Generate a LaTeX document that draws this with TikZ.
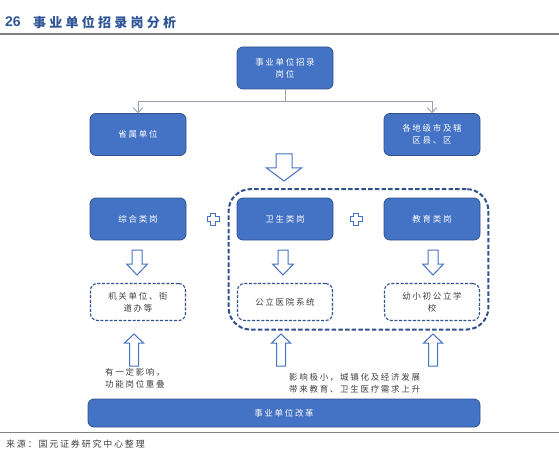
\documentclass[tikz,border=0pt]{standalone}
\usepackage{fontspec}
\usetikzlibrary{arrows.meta,fit}
\newfontfamily\cjk[LetterSpace=20]{Noto Sans CJK SC}
\newfontfamily\cjktitle[LetterSpace=25]{Noto Sans CJK SC}
\newfontfamily\lib{Liberation Sans}
\definecolor{boxblue}{RGB}{68,114,196}
\definecolor{bordblue}{RGB}{47,82,143}
\definecolor{titleblue}{RGB}{47,85,151}
\definecolor{textgray}{RGB}{64,64,64}
\definecolor{conngray}{RGB}{150,160,175}
\definecolor{rulegray}{RGB}{128,128,128}
% #1 centre x, #2 tail y, #3 head-base y, #4 tip y, #5 half shaft, #6 half head
\newcommand\hdown[6]{\draw[hollow] ({#1-#5},#2) -- ({#1+#5},#2) -- ({#1+#5},#3) -- ({#1+#6},#3) -- (#1,#4) -- ({#1-#6},#3) -- ({#1-#5},#3) -- cycle;}
\newcommand\hplus[2]{\draw[hollow] ({#1-2.3},{#2-6}) -- ({#1+2.3},{#2-6}) -- ({#1+2.3},{#2-2.3}) -- ({#1+6},{#2-2.3}) -- ({#1+6},{#2+2.3}) -- ({#1+2.3},{#2+2.3}) -- ({#1+2.3},{#2+6}) -- ({#1-2.3},{#2+6}) -- ({#1-2.3},{#2+2.3}) -- ({#1-6},{#2+2.3}) -- ({#1-6},{#2-2.3}) -- ({#1-2.3},{#2-2.3}) -- cycle;}
\tikzset{
  solidbox/.style={draw=bordblue, fill=boxblue, rounded corners=6pt, minimum width=96pt, minimum height=42pt, text=white, font=\cjk\fontsize{8.5}{12}\selectfont, align=center, line width=0.8pt, inner sep=2pt},
  dashbox/.style={draw=bordblue, dash pattern=on 3pt off 1.6pt, fill=white, rounded corners=7pt, minimum width=95pt, minimum height=37pt, text=textgray, font=\cjk\fontsize{8.5}{12}\selectfont, align=center, line width=1.1pt, inner sep=2pt},
  conn/.style={draw=conngray, line width=0.8pt, -{Straight Barb[length=5pt,width=10pt]}},
  hollow/.style={draw=boxblue, fill=white, line width=1pt, line join=miter},
  note/.style={text=textgray, font=\cjk\fontsize{8.5}{12}\selectfont, align=left, inner sep=0pt},
}
\begin{document}
\begin{tikzpicture}[x=1pt,y=-1pt]
\useasboundingbox (0,0) rectangle (559,457);
% title
\node[anchor=west, inner sep=0pt, text=titleblue, font=\lib\bfseries\fontsize{14}{16}\selectfont] (num) at (5,22) {26};
\node[anchor=west, inner sep=0pt, text=titleblue, font=\cjktitle\bfseries\fontsize{13}{16}\selectfont] (ttl) at (33,22) {事业单位招录岗分析};
\draw[rulegray, line width=1.5pt] (0,34) coordinate (tl) -- (559,34) coordinate (tr);
% boxes
\node[solidbox] (top) at (285,68) {事业单位招录\\岗位};
\node[solidbox] (s1) at (138,134.5) {省属单位};
\node[solidbox] (s2) at (432,134.5) {各地级市及辖\\区县、区};
\draw[conn] (top.south) -- ++(0,12) -| (s1.north);
\draw[conn] (top.south) -- ++(0,12) -| (s2.north);
\hdown{284}{154}{168}{181}{8}{17.5}
\node[solidbox] (c1) at (138,219) {综合类岗};
\node[solidbox] (c2) at (285,219) {卫生类岗};
\node[solidbox] (c3) at (432,219) {教育类岗};
\hplus{213}{219}
\hplus{356}{219}
\node[dashbox] (d1) at (138,302) {机关单位、街\\道办等};
\node[dashbox] (d2) at (285,302) {公立医院系统};
\node[dashbox] (d3) at (432,302) {幼小初公立学\\校};
\node[draw=bordblue, dash pattern=on 4.5pt off 2.2pt, line width=2pt, rounded corners=22pt, inner xsep=8pt, inner ysep=8.5pt, fit=(c2)(c3)(d2)(d3)] (grp) {};
\hdown{137}{250}{264}{275}{5}{10.5}
\hdown{283}{250}{264}{275}{5}{10.5}
\hdown{433}{250}{264}{275}{5}{10.5}
\hdown{134}{366}{343}{334}{4.5}{9.5}
\hdown{281}{366}{343}{334}{4.5}{9.5}
\hdown{433}{366}{343}{334}{4.5}{9.5}
\node[note, anchor=west] (n1) at (105,378.5) {有一定影响，\\功能岗位重叠};
\node[note, anchor=west] (n2) at (289,383) {影响极小，城镇化及经济发展\\带来教育、卫生医疗需求上升};
\node[solidbox, minimum width=392pt, minimum height=28pt] (reform) at (284,413) {事业单位改革};
\draw[rulegray, line width=1.5pt] (0,432.5) coordinate (bl) -- (559,432.5) coordinate (br);
\node[anchor=west, inner sep=0pt, text=textgray, font=\cjk\fontsize{9}{12}\selectfont] (src) at (6,444) {来源：国元证券研究中心整理};
\end{tikzpicture}
\end{document}
